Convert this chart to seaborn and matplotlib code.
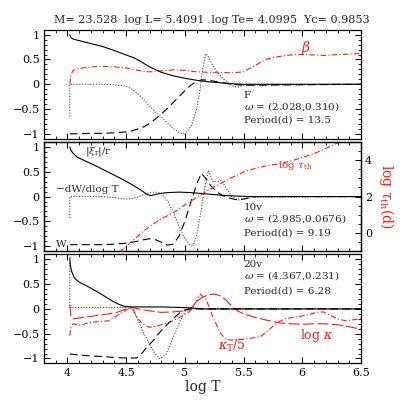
import matplotlib
matplotlib.use("Agg")
import matplotlib.pyplot as plt
import seaborn as sns
import numpy as np
from matplotlib.ticker import MultipleLocator

# ---------------- data ----------------
title_text = "M= 23.528  log L= 5.4091  log Te= 4.0995  Yc= 0.9853"
xticks = [4, 4.5, 5, 5.5, 6, 6.5]
xtick_labels = ["4", "4.5", "5", "5.5", "6", "6.5"]

# Panel 1 : F mode
f_xi_x = [4.02, 4.03, 4.05, 4.1, 4.2, 4.3, 4.4, 4.5, 4.57, 4.63, 4.7, 4.8, 4.9, 5.0, 5.1, 5.2, 5.3, 5.4, 5.5, 6.5]
f_xi_y = [1.0, 0.94, 0.91, 0.88, 0.82, 0.76, 0.68, 0.59, 0.53, 0.45, 0.35, 0.24, 0.17, 0.12, 0.08, 0.05, 0.03, 0.01, 0.0, 0.0]
f_beta_x = [4.02, 4.03, 4.05, 4.1, 4.2, 4.3, 4.4, 4.5, 4.6, 4.7, 4.8, 4.9, 5.0, 5.1, 5.2, 5.3, 5.4, 5.5,
            5.6, 5.7, 5.8, 5.9, 6.0, 6.1, 6.2, 6.3, 6.4, 6.5]
f_beta_y = [0.0, 0.2, 0.28, 0.32, 0.35, 0.36, 0.35, 0.33, 0.28, 0.25, 0.27, 0.29, 0.28, 0.25, 0.24, 0.24, 0.23, 0.25,
            0.38, 0.51, 0.56, 0.59, 0.60, 0.59, 0.58, 0.60, 0.61, 0.62]
f_dw_x = [4.02, 4.02, 4.1, 4.2, 4.3, 4.4, 4.5, 4.55, 4.6, 4.65, 4.7, 4.75, 4.8, 4.85, 4.9, 4.95, 4.98, 5.02,
          5.06, 5.1, 5.13, 5.15, 5.18, 5.2, 5.24, 5.3, 5.35, 5.4, 5.45, 5.5, 6.5]
f_dw_y = [-0.65, 0.0, 0.0, 0.0, 0.0, -0.01, -0.04, -0.1, -0.19, -0.31, -0.44, -0.56, -0.66, -0.77, -0.89, -0.97, -1.0, -0.95,
          -0.82, -0.5, -0.1, 0.3, 0.62, 0.55, 0.37, 0.18, 0.06, -0.03, -0.06, -0.02, 0.0]
f_w_x = [4.02, 4.1, 4.2, 4.3, 4.4, 4.5, 4.55, 4.6, 4.65, 4.7, 4.75, 4.8, 4.85, 4.9, 4.95, 5.0, 5.05, 5.1,
         5.15, 5.2, 5.3, 5.4, 5.5, 6.5]
f_w_y = [-1.0, -1.0, -0.99, -0.99, -0.98, -0.96, -0.94, -0.9, -0.86, -0.79, -0.7, -0.6, -0.49, -0.37, -0.25, -0.13, -0.02, 0.06,
         0.09, 0.08, 0.04, 0.0, -0.02, 0.0]

# Panel 2 : 10v mode
v10_xi_x = [4.02, 4.03, 4.05, 4.08, 4.15, 4.25, 4.35, 4.45, 4.55, 4.62, 4.68, 4.71, 4.78, 4.85, 4.95, 5.05, 5.15,
            5.25, 5.35, 5.45, 5.55, 6.5]
v10_xi_y = [1.0, 0.93, 0.87, 0.80, 0.72, 0.61, 0.49, 0.37, 0.24, 0.14, 0.04, 0.02, 0.06, 0.08, 0.09, 0.08, 0.06,
            0.04, 0.02, 0.01, 0.0, 0.0]
v10_dw_x = [4.02, 4.02, 4.1, 4.2, 4.3, 4.4, 4.5, 4.55, 4.6, 4.65, 4.7, 4.75, 4.8, 4.85, 4.9, 4.95, 5.0, 5.04,
            5.07, 5.1, 5.13, 5.17, 5.2, 5.24, 5.28, 5.31, 5.35, 5.4, 5.45, 5.5, 5.55, 6.5]
v10_dw_y = [-0.43, 0.0, 0.0, 0.0, 0.0, -0.02, -0.05, -0.04, -0.01, 0.04, 0.08, 0.09, 0.06, -0.08, -0.3, -0.6, -0.85, -0.97,
            -0.98, -0.8, -0.4, 0.2, 0.52, 0.3, 0.3, 0.33, 0.18, 0.0, -0.07, -0.05, -0.01, 0.0]
v10_w_x = [4.02, 4.1, 4.2, 4.3, 4.4, 4.5, 4.6, 4.65, 4.7, 4.75, 4.8, 4.85, 4.9, 4.95, 5.0, 5.05, 5.1, 5.14,
           5.18, 5.22, 5.27, 5.32, 5.38, 5.45, 5.5, 5.6, 6.5]
v10_w_y = [-0.97, -0.97, -0.97, -0.97, -0.96, -0.94, -0.9, -0.87, -0.85, -0.87, -0.92, -0.98, -0.96, -0.8, -0.5, -0.12, 0.25, 0.47,
           0.36, 0.22, 0.1, 0.02, -0.03, -0.07, -0.05, 0.0, 0.0]
v10_tau_x = [4.44, 4.5, 4.55, 4.62, 4.7, 4.8, 4.9, 5.0, 5.1, 5.2, 5.3, 5.4, 5.5, 5.6, 5.7, 5.8, 5.9, 6.0,
             6.1, 6.2, 6.3, 6.34]
v10_tau_y = [-1.05, -0.75, -0.45, -0.04, 0.36, 0.78, 1.1, 1.55, 1.95, 2.35, 2.7, 3.05, 3.35, 3.55, 3.7, 3.8, 3.95, 4.15,
             4.35, 4.65, 4.95, 5.1]

# Panel 3 : 20v mode
v20_xi_x = [4.02, 4.025, 4.035, 4.06, 4.1, 4.16, 4.22, 4.28, 4.34, 4.39, 4.44, 4.49, 4.55, 4.65, 4.8, 4.95, 5.05, 5.15, 6.5]
v20_xi_y = [1.03, 0.88, 0.76, 0.62, 0.54, 0.47, 0.39, 0.31, 0.22, 0.15, 0.09, 0.05, 0.04, 0.04, 0.04, 0.03, 0.02, 0.0, 0.0]
v20_dw_x = [4.02, 4.02, 4.1, 4.2, 4.3, 4.4, 4.5, 4.55, 4.59, 4.63, 4.67, 4.71, 4.75, 4.79, 4.84, 4.9, 4.96, 5.01, 5.05, 6.5]
v20_dw_y = [0.93, 0.03, 0.03, 0.03, 0.03, 0.03, 0.03, 0.01, -0.17, -0.38, -0.58, -0.76, -0.91, -1.01, -0.91, -0.58, -0.24, -0.02, 0.0, 0.0]
v20_w_x = [4.02, 4.1, 4.2, 4.3, 4.4, 4.5, 4.59, 4.64, 4.68, 4.73, 4.77, 4.81, 4.86, 4.9, 4.95, 5.0, 5.04, 6.5]
v20_w_y = [-0.91, -0.93, -0.95, -0.96, -0.98, -0.99, -0.99, -0.88, -0.76, -0.64, -0.52, -0.41, -0.29, -0.2, -0.09, -0.02, 0.0, 0.0]
v20_kap_x = [4.02, 4.03, 4.05, 4.2, 4.35, 4.42, 4.5, 4.55, 4.62, 4.7, 4.8, 4.9, 5.0, 5.05, 5.1, 5.15, 5.2, 5.25,
             5.3, 5.35, 5.4, 5.45, 5.5, 5.6, 5.7, 5.8, 5.9, 6.0, 6.1, 6.2, 6.3, 6.4, 6.5]
v20_kap_y = [0.08, -0.15, -0.2, -0.15, -0.1, -0.07, 0.0, 0.03, -0.01, -0.04, -0.07, -0.06, -0.04, 0.0, 0.15, 0.24, 0.28, 0.3,
             0.27, 0.18, 0.05, -0.04, -0.1, -0.17, -0.23, -0.28, -0.3, -0.31, -0.3, -0.3, -0.32, -0.36, -0.41]
v20_kt_x = [4.02, 4.03, 4.05, 4.1, 4.15, 4.2, 4.3, 4.35, 4.42, 4.5, 4.55, 4.6, 4.65, 4.7, 4.75, 4.8, 4.87, 4.93,
            4.98, 5.03, 5.07, 5.13, 5.18, 5.24, 5.3, 5.35, 5.4, 5.5, 5.6, 5.65, 5.7, 5.78, 5.85, 5.95, 6.05, 6.12,
            6.18, 6.23, 6.3, 6.37, 6.43, 6.5]
v20_kt_y = [-0.54, -0.35, -0.3, -0.33, -0.3, -0.27, -0.25, -0.24, -0.14, -0.02, 0.03, -0.2, -0.32, -0.37, -0.35, -0.32, -0.27, -0.2,
            -0.14, -0.07, 0.03, 0.3, 0.2, -0.17, -0.48, -0.62, -0.63, -0.61, -0.58, -0.55, -0.45, -0.29, -0.2, -0.16, -0.12, -0.07,
            -0.06, -0.12, -0.2, -0.24, -0.22, -0.2]

# ---------------- style ----------------
sns.set_theme(style="ticks")
plt.rcParams["font.family"] = ["DejaVu Serif"]
plt.rcParams["mathtext.fontset"] = "dejavuserif"
plt.rcParams.update({
    "xtick.direction": "in", "ytick.direction": "in",
    "xtick.top": True, "ytick.right": True,
    "xtick.major.size": 4, "ytick.major.size": 4,
    "xtick.minor.size": 2, "ytick.minor.size": 2,
    "xtick.major.width": 0.7, "ytick.major.width": 0.7,
    "xtick.minor.width": 0.6, "ytick.minor.width": 0.6,
    "axes.linewidth": 0.9, "axes.edgecolor": "black",
    "xtick.color": "black", "ytick.color": "black",
    "xtick.labelsize": 8, "ytick.labelsize": 8,
})

RED = "#ff1a1a"
GRAY = "#444444"
LW = 0.8
FS = 7.5
solid = dict(color="black", linewidth=LW, linestyle="-")
dashed = dict(color="black", linewidth=LW, linestyle=(0, (7, 4)))
dotted = dict(color=GRAY, linewidth=LW, linestyle=(0, (1, 1.5)))
dashdot = dict(color=RED, linewidth=LW, linestyle=(0, (5, 2, 1, 2)))
longdash = dict(color=RED, linewidth=LW, linestyle=(0, (10, 3)))

fig = plt.figure(figsize=(4.07, 4.07), dpi=100)
left, width, h = 0.108, 0.779, 0.268
ax1 = fig.add_axes([left, 0.659, width, h])
ax2 = fig.add_axes([left, 0.383, width, h])
ax3 = fig.add_axes([left, 0.107, width, h])

def line(ax, x, y, kw):
    sns.lineplot(x=x, y=y, ax=ax, sort=False, estimator=None, **kw)

def setup(ax, bottom=False, right=True):
    ax.set_xlim(3.8, 6.5)
    ax.set_ylim(-1.1, 1.1)
    ax.set_xticks(xticks)
    ax.xaxis.set_minor_locator(MultipleLocator(0.1))
    ax.set_yticks([-1, -0.5, 0, 0.5, 1])
    ax.set_yticklabels(["\u22121", "\u22120.5", "0", "0.5", "1"])
    ax.yaxis.set_minor_locator(MultipleLocator(0.1))
    ax.tick_params(which="both", direction="in", top=True, right=right, pad=3)
    if bottom:
        ax.set_xticklabels(xtick_labels)
        ax.set_xlabel("log T", fontsize=10, labelpad=2)
    else:
        ax.set_xticklabels([])
    ax.set_ylabel("")

def txt(ax, x, y, s, **kw):
    kw.setdefault("fontsize", FS)
    ax.text(x, y, s, ha="left", va="center", **kw)

# Panel 1
line(ax1, f_beta_x, f_beta_y, dashdot)
line(ax1, f_dw_x, f_dw_y, dotted)
line(ax1, f_w_x, f_w_y, dashed)
line(ax1, f_xi_x, f_xi_y, solid)
setup(ax1)
ax1.set_title(title_text, fontsize=8, pad=5, x=0.53)
ax1.text(6.03, 0.74, r"$\beta$", color=RED, fontsize=10, ha="center", va="center")
txt(ax1, 5.5, -0.23, "F")
txt(ax1, 5.5, -0.44, r"$\omega$ = (2.028,0.310)")
txt(ax1, 5.5, -0.73, "Period(d) = 13.5")

# Panel 2
ax2b = ax2.twinx()
line(ax2b, v10_tau_x, v10_tau_y, dashdot)
line(ax2, v10_dw_x, v10_dw_y, dotted)
line(ax2, v10_w_x, v10_w_y, dashed)
line(ax2, v10_xi_x, v10_xi_y, solid)
setup(ax2, right=False)
ax2b.set_ylim(-1, 5)
ax2b.set_xlim(3.8, 6.5)
ax2b.set_yticks([0, 2, 4])
ax2b.yaxis.set_minor_locator(MultipleLocator(0.5))
ax2b.tick_params(which="both", direction="in", right=True, left=False, top=False, pad=3)
ax2b.set_ylabel(r"log $\tau_{\rm th}$(d)", color=RED, fontsize=10, rotation=270, labelpad=17)
txt(ax2, 4.15, 0.9, r"$|\xi_{\rm r}|$/r")
txt(ax2, 3.9, 0.14, "\u2212dW/dlog T")
txt(ax2, 3.9, -0.97, "W")
txt(ax2, 5.79, 0.62, r"log $\tau_{\rm th}$", color=RED)
txt(ax2, 5.5, -0.22, "10v")
txt(ax2, 5.5, -0.45, r"$\omega$ = (2.985,0.0676)")
txt(ax2, 5.5, -0.74, "Period(d) = 9.19")

# Panel 3
line(ax3, v20_kap_x, v20_kap_y, longdash)
line(ax3, v20_kt_x, v20_kt_y, dashdot)
line(ax3, v20_dw_x, v20_dw_y, dotted)
line(ax3, v20_w_x, v20_w_y, dashed)
line(ax3, v20_xi_x, v20_xi_y, solid)
setup(ax3, bottom=True)
txt(ax3, 5.5, 0.89, "20v")
txt(ax3, 5.5, 0.67, r"$\omega$ = (4.367,0.231)")
txt(ax3, 5.5, 0.37, "Period(d) = 6.28")
txt(ax3, 5.98, -0.54, r"log $\kappa$", color=RED, fontsize=9)
txt(ax3, 5.28, -0.74, r"$\kappa_{\rm T}$/5", color=RED, fontsize=9)

fig.savefig("out.png", dpi=100)
